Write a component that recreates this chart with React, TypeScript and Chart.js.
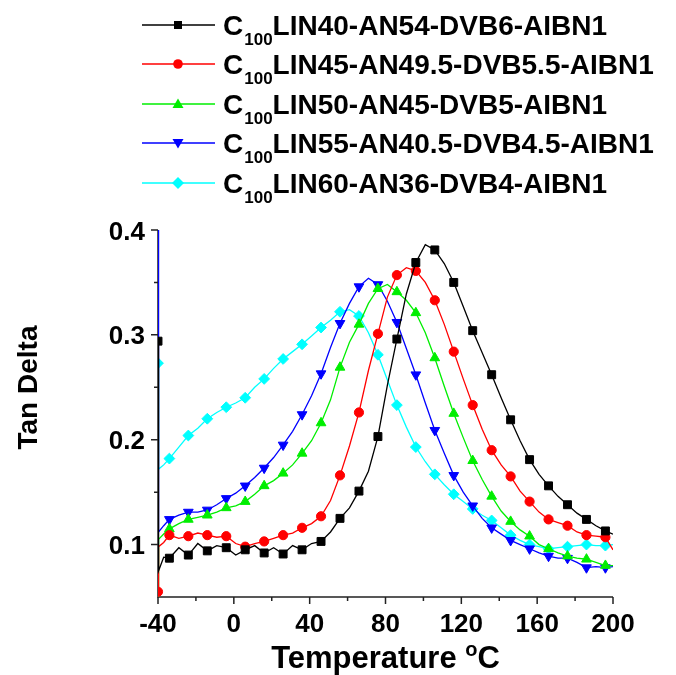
import React, { useEffect, useRef } from "react";
import { Chart, registerables } from "chart.js";

Chart.register(...registerables);

const temps = [-40, -39.7, -37, -34, -29, -24, -19, -14, -9, -4, 1, 6, 11, 16, 21, 26, 31, 36, 41, 46, 51, 56, 61, 66, 71, 76, 81, 86, 91, 96, 101, 106, 111, 116, 121, 126, 131, 136, 141, 146, 151, 156, 161, 166, 171, 176, 181, 186, 191, 196, 200];

const lin40 = [0.294, 0.075, 0.088, 0.087, 0.097, 0.090, 0.101, 0.094, 0.099, 0.097, 0.090, 0.095, 0.099, 0.092, 0.097, 0.091, 0.099, 0.095, 0.101, 0.103, 0.112, 0.125, 0.135, 0.151, 0.170, 0.203, 0.252, 0.296, 0.339, 0.369, 0.386, 0.381, 0.368, 0.350, 0.327, 0.304, 0.283, 0.262, 0.240, 0.219, 0.199, 0.181, 0.167, 0.156, 0.146, 0.138, 0.130, 0.124, 0.118, 0.113, 0.110];
const lin45 = [0.055, 0.098, 0.102, 0.109, 0.106, 0.108, 0.111, 0.109, 0.107, 0.108, 0.101, 0.098, 0.101, 0.103, 0.106, 0.109, 0.111, 0.116, 0.120, 0.127, 0.142, 0.166, 0.194, 0.226, 0.266, 0.301, 0.336, 0.357, 0.364, 0.361, 0.350, 0.333, 0.310, 0.284, 0.258, 0.233, 0.210, 0.190, 0.176, 0.165, 0.151, 0.141, 0.131, 0.124, 0.121, 0.118, 0.112, 0.109, 0.108, 0.107, 0.095];
const lin50 = [0.02, 0.105, 0.110, 0.115, 0.120, 0.124, 0.126, 0.128, 0.131, 0.135, 0.137, 0.141, 0.148, 0.156, 0.161, 0.168, 0.176, 0.187, 0.199, 0.216, 0.238, 0.269, 0.293, 0.310, 0.330, 0.344, 0.348, 0.341, 0.333, 0.321, 0.302, 0.278, 0.251, 0.225, 0.202, 0.180, 0.162, 0.146, 0.132, 0.122, 0.114, 0.108, 0.100, 0.096, 0.092, 0.089, 0.087, 0.086, 0.083, 0.080, 0.080];
const lin55 = [0.42, 0.112, 0.118, 0.124, 0.128, 0.131, 0.131, 0.133, 0.138, 0.144, 0.149, 0.156, 0.164, 0.173, 0.183, 0.195, 0.208, 0.224, 0.242, 0.263, 0.288, 0.311, 0.330, 0.346, 0.354, 0.348, 0.332, 0.312, 0.287, 0.262, 0.235, 0.209, 0.187, 0.166, 0.150, 0.137, 0.125, 0.116, 0.110, 0.104, 0.100, 0.096, 0.092, 0.089, 0.087, 0.087, 0.083, 0.078, 0.079, 0.078, 0.079];
const lin60 = [0.273, 0.172, 0.176, 0.182, 0.193, 0.204, 0.211, 0.220, 0.226, 0.231, 0.235, 0.240, 0.250, 0.258, 0.268, 0.277, 0.284, 0.291, 0.299, 0.307, 0.314, 0.322, 0.324, 0.318, 0.302, 0.281, 0.257, 0.233, 0.212, 0.193, 0.179, 0.167, 0.157, 0.148, 0.141, 0.134, 0.128, 0.123, 0.116, 0.109, 0.104, 0.100, 0.098, 0.096, 0.097, 0.098, 0.099, 0.100, 0.099, 0.099, 0.100];

const seriesNames = ["LIN40-AN54-DVB6-AIBN1", "LIN45-AN49.5-DVB5.5-AIBN1", "LIN50-AN45-DVB5-AIBN1", "LIN55-AN40.5-DVB4.5-AIBN1", "LIN60-AN36-DVB4-AIBN1"];
const seriesValues = [lin40, lin45, lin50, lin55, lin60];
const seriesColors = ["#000000", "#ff0000", "#00ee00", "#0000ff", "#00ffff"];
const seriesMarkers = ["square", "circle", "triangle", "invtriangle", "diamond"];

const xTicks = [-40, -20, 0, 20, 40, 60, 80, 100, 120, 140, 160, 180, 200];
const xLabels = [-40, 0, 40, 80, 120, 160, 200];
const yTicks = [0.1, 0.15, 0.2, 0.25, 0.3, 0.35, 0.4];
const yLabels = [0.1, 0.2, 0.3, 0.4];

const FONT = '"Liberation Sans", Arial, sans-serif';

function drawMarker(ctx: CanvasRenderingContext2D, kind: string, x: number, y: number, color: string) {
  ctx.save();
  ctx.fillStyle = color;
  ctx.beginPath();
  if (kind === "square") {
    ctx.rect(x - 4, y - 4, 8, 8);
  } else if (kind === "circle") {
    ctx.arc(x, y, 4.8, 0, Math.PI * 2);
  } else if (kind === "triangle") {
    ctx.moveTo(x, y - 5.5);
    ctx.lineTo(x + 5.5, y + 4);
    ctx.lineTo(x - 5.5, y + 4);
    ctx.closePath();
  } else if (kind === "invtriangle") {
    ctx.moveTo(x, y + 5.5);
    ctx.lineTo(x + 5.5, y - 4);
    ctx.lineTo(x - 5.5, y - 4);
    ctx.closePath();
  } else {
    ctx.moveTo(x, y - 6);
    ctx.lineTo(x + 6, y);
    ctx.lineTo(x, y + 6);
    ctx.lineTo(x - 6, y);
    ctx.closePath();
  }
  ctx.fill();
  ctx.restore();
}

const axesPlugin = {
  id: "originAxes",
  beforeDatasetsDraw(chart: any) {
    const ctx: CanvasRenderingContext2D = chart.ctx;
    const { left, right, top, bottom } = chart.chartArea;
    const xs = chart.scales.x;
    const ys = chart.scales.y;
    ctx.save();
    ctx.strokeStyle = "#222";
    ctx.lineWidth = 1.5;
    ctx.beginPath();
    ctx.moveTo(left, top);
    ctx.lineTo(left, bottom);
    ctx.lineTo(right, bottom);
    ctx.stroke();
    ctx.beginPath();
    for (const t of xTicks) {
      const px = xs.getPixelForValue(t);
      const major = xLabels.includes(t);
      ctx.moveTo(px, bottom);
      ctx.lineTo(px, bottom + (major ? 7 : 4));
    }
    for (const t of yTicks) {
      const py = ys.getPixelForValue(t);
      const major = yLabels.some((v) => Math.abs(v - t) < 1e-9);
      ctx.moveTo(left, py);
      ctx.lineTo(left - (major ? 7 : 4), py);
    }
    ctx.stroke();
    ctx.restore();
  },
  afterDraw(chart: any) {
    const ctx: CanvasRenderingContext2D = chart.ctx;
    const { left, right, top, bottom } = chart.chartArea;
    const xs = chart.scales.x;
    const ys = chart.scales.y;
    ctx.save();
    ctx.fillStyle = "#000";
    // tick labels
    ctx.font = `bold 26px ${FONT}`;
    ctx.textBaseline = "alphabetic";
    ctx.textAlign = "center";
    for (const t of xLabels) {
      ctx.fillText(String(t), xs.getPixelForValue(t), 632);
    }
    ctx.textAlign = "right";
    for (const t of yLabels) {
      ctx.fillText(t.toFixed(1), left - 13, ys.getPixelForValue(t) + 9.5);
    }
    // x title with superscript
    const cx = (left + right) / 2;
    const part1 = "Temperature ";
    const sup = "o";
    const part2 = "C";
    ctx.textAlign = "left";
    ctx.font = `bold 31px ${FONT}`;
    const w1 = ctx.measureText(part1).width;
    const w3 = ctx.measureText(part2).width;
    ctx.font = `bold 20px ${FONT}`;
    const w2 = ctx.measureText(sup).width;
    let sx = cx - (w1 + w2 + w3) / 2;
    ctx.font = `bold 31px ${FONT}`;
    ctx.fillText(part1, sx, 668);
    ctx.font = `bold 20px ${FONT}`;
    ctx.fillText(sup, sx + w1, 656);
    ctx.font = `bold 31px ${FONT}`;
    ctx.fillText(part2, sx + w1 + w2, 668);
    // y title
    ctx.save();
    ctx.translate(37, (top + bottom) / 2 - 26);
    ctx.rotate(-Math.PI / 2);
    ctx.textAlign = "center";
    ctx.font = `bold 28px ${FONT}`;
    ctx.fillText("Tan Delta", 0, 0);
    ctx.restore();
    // legend
    const rows = [25, 64, 104, 143, 183];
    seriesNames.forEach((name, i) => {
      const y = rows[i];
      ctx.strokeStyle = seriesColors[i];
      ctx.lineWidth = 1.3;
      ctx.beginPath();
      ctx.moveTo(142, y);
      ctx.lineTo(215, y);
      ctx.stroke();
      drawMarker(ctx, seriesMarkers[i], 178, y, seriesColors[i]);
      ctx.fillStyle = "#000";
      ctx.textAlign = "left";
      ctx.font = `bold 28px ${FONT}`;
      let x = 223;
      ctx.fillText("C", x, y + 10);
      x += ctx.measureText("C").width + 1;
      ctx.font = `bold 17px ${FONT}`;
      ctx.fillText("100", x, y + 20);
      x += ctx.measureText("100").width;
      ctx.font = `bold 28px ${FONT}`;
      ctx.fillText(name, x, y + 10);
    });
    ctx.restore();
  },
};

const markerIndex = (i: number) => i === 0 || (i >= 3 && i <= 49 && i % 2 === 1);

export default function App() {
  const ref = useRef<HTMLCanvasElement>(null);
  useEffect(() => {
    if (!ref.current) return;
    const styleMap: Record<string, any> = {
      square: { pointStyle: "rect", r: 5.6, rot: 0 },
      circle: { pointStyle: "circle", r: 4.6, rot: 0 },
      triangle: { pointStyle: "triangle", r: 5.6, rot: 0 },
      invtriangle: { pointStyle: "triangle", r: 5.6, rot: 180 },
      diamond: { pointStyle: "rectRot", r: 5.4, rot: 0 },
    };
    const datasets = seriesValues.map((vals, i) => {
      const st = styleMap[seriesMarkers[i]];
      return {
        label: "C100" + seriesNames[i],
        data: temps.map((t, j) => ({ x: t, y: vals[j] })),
        borderColor: seriesColors[i],
        backgroundColor: seriesColors[i],
        borderWidth: 1.3,
        pointStyle: st.pointStyle,
        pointRotation: st.rot,
        pointBorderWidth: 1,
        pointRadius: (c: any) => (markerIndex(c.dataIndex) ? st.r : 0),
        tension: 0,
      };
    });
    const chart = new Chart(ref.current, {
      type: "line",
      data: { datasets },
      options: {
        animation: false,
        responsive: false,
        events: [],
        layout: { padding: { left: 158, top: 230, right: 63, bottom: 78 } },
        plugins: { legend: { display: false }, tooltip: { enabled: false }, title: { display: false } },
        scales: {
          x: { type: "linear", min: -40, max: 200, display: false },
          y: { type: "linear", min: 0.05, max: 0.4, display: false },
        },
      },
      plugins: [axesPlugin],
    } as any);
    return () => chart.destroy();
  }, []);
  return (
    <div style={{ position: "fixed", left: 0, top: 0, width: 676, height: 675, background: "#fff" }}>
      <canvas ref={ref} width={676} height={675} />
    </div>
  );
}
